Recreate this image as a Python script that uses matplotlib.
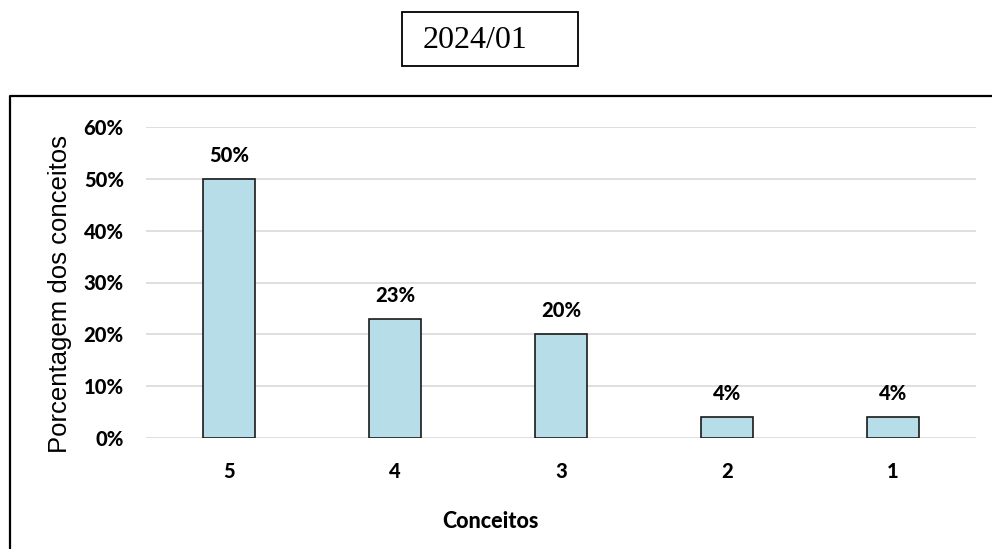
import matplotlib.pyplot as plt
from matplotlib.patches import Rectangle
from matplotlib.lines import Line2D
from matplotlib.ticker import PercentFormatter

conceitos = ["5", "4", "3", "2", "1"]
porcentagens = [0.50, 0.23, 0.20, 0.04, 0.04]
rotulos = ["50%", "23%", "20%", "4%", "4%"]
y_ticks = [0, 0.1, 0.2, 0.3, 0.4, 0.5, 0.6]

bar_color = "#b7dee8"
bold_font = "Lato"
peso = "black"

fig = plt.figure(figsize=(9.92, 5.49), dpi=100)
ax = fig.add_axes([146/992, 111/549, 830/992, 311/549])

x = range(len(conceitos))
bars = ax.bar(x, porcentagens, width=0.31, color=bar_color,
              edgecolor="#1a1a1a", linewidth=1.2, zorder=3)

for b, lab in zip(bars, rotulos):
    ax.annotate(lab, (b.get_x() + b.get_width()/2, b.get_height()),
                xytext=(0, 10), textcoords="offset points",
                ha="center", va="bottom", fontsize=14.5,
                fontweight=peso, family=bold_font)

ax.set_xlim(-0.5, len(conceitos) - 0.5)
ax.set_ylim(0, 0.6)
ax.set_yticks(y_ticks)
ax.yaxis.set_major_formatter(PercentFormatter(1.0, decimals=0))
ax.set_xticks(list(x))
ax.set_xticklabels(conceitos)
ax.grid(axis="y", color="#d9d9d9", linewidth=1.2, zorder=0)
ax.tick_params(length=0)
ax.tick_params(axis="y", pad=16)
ax.tick_params(axis="x", pad=17)
for lbl in ax.get_xticklabels() + ax.get_yticklabels():
    lbl.set_fontsize(14.5)
    lbl.set_fontweight(peso)
    lbl.set_family(bold_font)
for s in ax.spines.values():
    s.set_visible(False)

ax.set_ylabel("Porcentagem dos conceitos", fontsize=18.5,
              family="Liberation Sans")
ax.yaxis.set_label_coords(-0.089, 0.463)
ax.set_xlabel("Conceitos", fontsize=15.5, fontweight=peso, family=bold_font)
ax.xaxis.set_label_coords(0.415, -0.236)

# moldura externa
fig.add_artist(Line2D([10/992, 10/992, 1.0], [0, 1 - 96/549, 1 - 96/549],
                      transform=fig.transFigure, color="black", linewidth=1.6))

# caixa do titulo
fig.add_artist(Rectangle((402/992, 1 - 66/549), 176/992, 54/549,
                         transform=fig.transFigure, fill=False,
                         edgecolor="black", linewidth=1.3))
fig.text(475/992, 1 - 41/549, "2024/01", ha="center", va="center",
         fontsize=23, family="Liberation Serif")

fig.savefig("out.png", dpi=100)
